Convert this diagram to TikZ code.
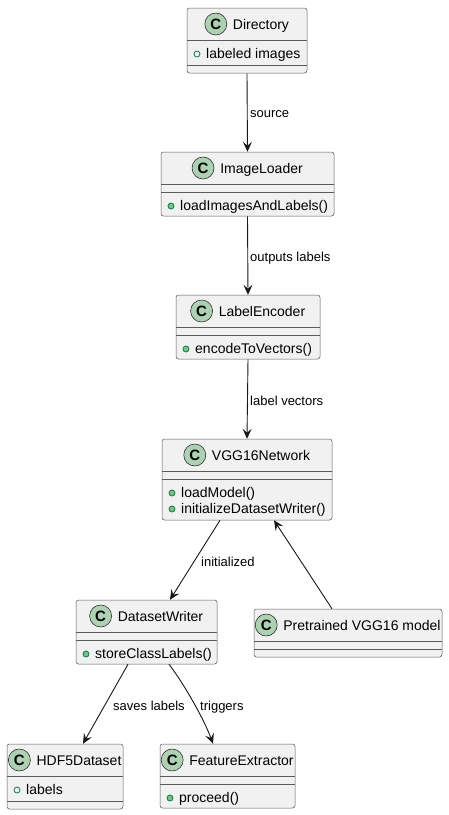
\documentclass[tikz,border=0pt]{standalone}
\usepackage{fontspec}
\setmainfont{Liberation Sans}
\usetikzlibrary{arrows.meta}
\definecolor{clsfill}{HTML}{F1F1F1}
\definecolor{clsborder}{HTML}{5A5A5A}
\definecolor{lineclr}{HTML}{181818}
\definecolor{circfill}{HTML}{ADD1B2}
\definecolor{memline}{HTML}{038048}
\definecolor{memfill}{HTML}{84BE84}
\tikzset{
 clsbox/.style={draw=clsborder, fill=clsfill, line width=0.5pt, rounded corners=2.5pt, inner sep=0pt},
 clsline/.style={draw=clsborder, line width=0.5pt},
 clsname/.style={font=\fontsize{14}{16}\selectfont, inner sep=0pt, anchor=base},
 clscirc/.style={circle, draw=lineclr, fill=circfill, line width=0.5pt, minimum size=22pt, inner sep=0pt, font=\fontsize{15}{15}\selectfont\bfseries},
 memtext/.style={font=\fontsize{14}{16}\selectfont, inner sep=0pt, anchor=base west},
 fieldmark/.style={draw=memline, line width=0.8pt},
 methmark/.style={draw=memline, fill=memfill, line width=0.8pt},
 rel/.style={draw=lineclr, line width=0.9pt, -{Stealth[length=10pt,width=9pt,inset=4pt]}},
 rellabel/.style={font=\fontsize{13}{15}\selectfont, inner sep=0pt, anchor=base west},
}
% id, left, top, right, bottom, name, sep1, sep2
\newcommand\umlclass[8]{%
 \node[clsbox, minimum width={#4-#2}, minimum height={#5-#3}] (#1) at ({(#2+#4)/2},{(#3+#5)/2}) {};
 \draw[clsline] (#2,#7) -- (#4,#7);
 \draw[clsline] (#2,#8) -- (#4,#8);
 \node[clsname] (#1-name) at ({(#2+#4)/2+14},{(#3+#7)/2+5}) {#6};
 \node[clscirc] (#1-c) at ([xshift=-17pt,yshift=5pt]#1-name.base west) {C};
}
% id, left, rowcenter, markstyle, text
\newcommand\umlmember[5]{%
 \path[#4] (#2+10,#3+1) circle (3pt);
 \node[memtext] (#1) at (#2+19,#3+5) {#5};
}
\begin{document}
\begin{tikzpicture}[x={(1pt,0pt)}, y={(0pt,-1pt)}]
\fill[white] (0,0) rectangle (448,815);
\useasboundingbox (0,0) rectangle (448,815);

\umlclass{dir}{187}{8}{307}{73}{Directory}{40}{65}
\umlmember{dir-m1}{187}{53}{fieldmark}{labeled images}

\umlclass{il}{161}{152}{334}{216}{ImageLoader}{184}{192}
\umlmember{il-m1}{161}{205}{methmark}{loadImagesAndLabels()}

\umlclass{le}{176}{295}{320}{359}{LabelEncoder}{327}{335}
\umlmember{le-m1}{176}{348}{methmark}{encodeToVectors()}

\umlclass{vgg}{162}{439}{332}{520}{VGG16Network}{471}{479}
\umlmember{vgg-m1}{162}{492}{methmark}{loadModel()}
\umlmember{vgg-m2}{162}{508}{methmark}{initializeDatasetWriter()}

\umlclass{dw}{76}{600}{217}{664}{DatasetWriter}{632}{640}
\umlmember{dw-m1}{76}{653}{methmark}{storeClassLabels()}

\umlclass{pre}{254}{609}{442}{657}{Pretrained VGG16 model}{641}{649}

\umlclass{hdf}{7}{744}{123}{809}{HDF5Dataset}{776}{801}
\umlmember{hdf-m1}{7}{789}{fieldmark}{labels}

\umlclass{fe}{160}{744}{295}{808}{FeatureExtractor}{776}{784}
\umlmember{fe-m1}{160}{797}{methmark}{proceed()}

\draw[rel] (dir.south) -- (il.north);
\node[rellabel] (lab1) at (250,117.5) {source};
\draw[rel] (il.south) -- (le.north);
\node[rellabel] (lab2) at (250,261.5) {outputs labels};
\draw[rel] (le.south) -- (vgg.north);
\node[rellabel] (lab3) at (250,405.5) {label vectors};
\draw[rel] ([xshift=-27pt]vgg.south) -- ([xshift=23.5pt]dw.north);
\node[rellabel] (lab4) at (201,566.5) {initialized};
\draw[rel] ([xshift=-16pt]pre.north) -- ([xshift=27pt]vgg.south);
\draw[rel] ([xshift=-18.5pt]dw.south) -- ([xshift=18pt]hdf.north);
\node[rellabel] (lab5) at (113,710.5) {saves labels};
\draw[rel] ([xshift=22.5pt]dw.south) .. controls (183.4,683) and (204,719) .. ([xshift=-14.5pt]fe.north);
\node[rellabel] (lab6) at (200,710.5) {triggers};
\end{tikzpicture}
\end{document}
